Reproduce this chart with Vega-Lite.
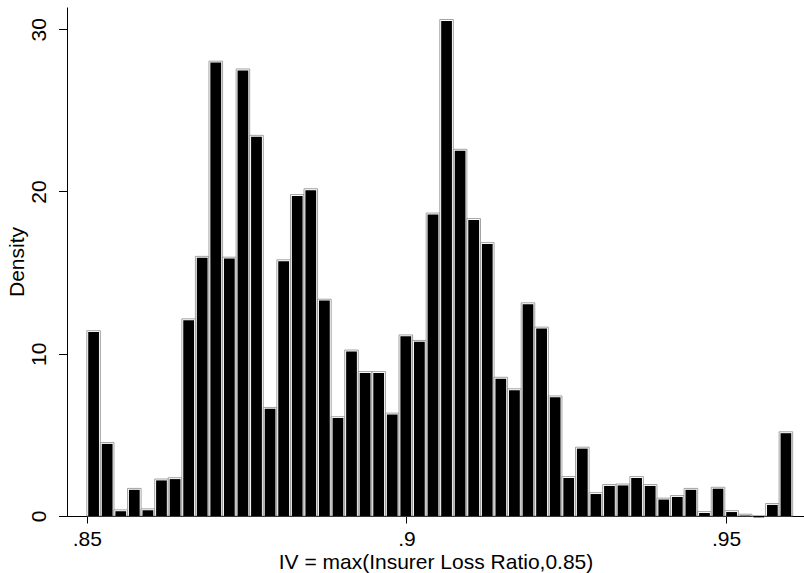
{
  "$schema": "https://vega.github.io/schema/vega-lite/v6.json",
  "autosize": "none",
  "width": 737,
  "height": 509,
  "padding": {"left": 67, "top": 7, "right": 0, "bottom": 57},
  "background": "white",
  "config": {
    "view": {"stroke": null},
    "font": "Liberation Sans",
    "axis": {
      "grid": false,
      "domainColor": "#000000",
      "domainWidth": 1,
      "tickColor": "#000000",
      "tickWidth": 1,
      "labelFont": "Liberation Sans",
      "labelFontSize": 21,
      "labelColor": "#000000",
      "titleFont": "Liberation Sans",
      "titleFontSize": 21,
      "titleFontWeight": "normal",
      "titleColor": "#000000"
    }
  },
  "data": {
    "values": [
      {"bin_start": 0.85000, "bin_end": 0.85212, "density": 11.42},
      {"bin_start": 0.85212, "bin_end": 0.85425, "density": 4.53},
      {"bin_start": 0.85425, "bin_end": 0.85637, "density": 0.38},
      {"bin_start": 0.85637, "bin_end": 0.85849, "density": 1.70},
      {"bin_start": 0.85849, "bin_end": 0.86062, "density": 0.44},
      {"bin_start": 0.86062, "bin_end": 0.86274, "density": 2.28},
      {"bin_start": 0.86274, "bin_end": 0.86487, "density": 2.36},
      {"bin_start": 0.86487, "bin_end": 0.86699, "density": 12.15},
      {"bin_start": 0.86699, "bin_end": 0.86911, "density": 16.0},
      {"bin_start": 0.86911, "bin_end": 0.87124, "density": 28.03},
      {"bin_start": 0.87124, "bin_end": 0.87336, "density": 15.95},
      {"bin_start": 0.87336, "bin_end": 0.87548, "density": 27.55},
      {"bin_start": 0.87548, "bin_end": 0.87761, "density": 23.46},
      {"bin_start": 0.87761, "bin_end": 0.87973, "density": 6.69},
      {"bin_start": 0.87973, "bin_end": 0.88186, "density": 15.79},
      {"bin_start": 0.88186, "bin_end": 0.88398, "density": 19.81},
      {"bin_start": 0.88398, "bin_end": 0.88610, "density": 20.17},
      {"bin_start": 0.88610, "bin_end": 0.88823, "density": 13.36},
      {"bin_start": 0.88823, "bin_end": 0.89035, "density": 6.12},
      {"bin_start": 0.89035, "bin_end": 0.89247, "density": 10.23},
      {"bin_start": 0.89247, "bin_end": 0.89460, "density": 8.90},
      {"bin_start": 0.89460, "bin_end": 0.89672, "density": 8.90},
      {"bin_start": 0.89672, "bin_end": 0.89884, "density": 6.34},
      {"bin_start": 0.89884, "bin_end": 0.90097, "density": 11.16},
      {"bin_start": 0.90097, "bin_end": 0.90309, "density": 10.82},
      {"bin_start": 0.90309, "bin_end": 0.90522, "density": 18.67},
      {"bin_start": 0.90522, "bin_end": 0.90734, "density": 30.6},
      {"bin_start": 0.90734, "bin_end": 0.90946, "density": 22.6},
      {"bin_start": 0.90946, "bin_end": 0.91159, "density": 18.33},
      {"bin_start": 0.91159, "bin_end": 0.91371, "density": 16.85},
      {"bin_start": 0.91371, "bin_end": 0.91583, "density": 8.55},
      {"bin_start": 0.91583, "bin_end": 0.91796, "density": 7.84},
      {"bin_start": 0.91796, "bin_end": 0.92008, "density": 13.14},
      {"bin_start": 0.92008, "bin_end": 0.92221, "density": 11.64},
      {"bin_start": 0.92221, "bin_end": 0.92433, "density": 7.40},
      {"bin_start": 0.92433, "bin_end": 0.92645, "density": 2.43},
      {"bin_start": 0.92645, "bin_end": 0.92858, "density": 4.24},
      {"bin_start": 0.92858, "bin_end": 0.93070, "density": 1.44},
      {"bin_start": 0.93070, "bin_end": 0.93282, "density": 1.94},
      {"bin_start": 0.93282, "bin_end": 0.93495, "density": 1.97},
      {"bin_start": 0.93495, "bin_end": 0.93707, "density": 2.43},
      {"bin_start": 0.93707, "bin_end": 0.93920, "density": 1.94},
      {"bin_start": 0.93920, "bin_end": 0.94132, "density": 1.10},
      {"bin_start": 0.94132, "bin_end": 0.94344, "density": 1.26},
      {"bin_start": 0.94344, "bin_end": 0.94557, "density": 1.70},
      {"bin_start": 0.94557, "bin_end": 0.94769, "density": 0.27},
      {"bin_start": 0.94769, "bin_end": 0.94981, "density": 1.77},
      {"bin_start": 0.94981, "bin_end": 0.95194, "density": 0.33},
      {"bin_start": 0.95194, "bin_end": 0.95406, "density": 0.11},
      {"bin_start": 0.95406, "bin_end": 0.95619, "density": 0},
      {"bin_start": 0.95619, "bin_end": 0.95831, "density": 0.77},
      {"bin_start": 0.95831, "bin_end": 0.96043, "density": 5.19}
    ]
  },
  "encoding": {
    "x": {
      "field": "bin_start",
      "type": "quantitative",
      "scale": {"domain": [0.8469, 0.9622], "nice": false, "zero": false},
      "axis": {
        "values": [0.85, 0.9, 0.95],
        "labelExpr": "substring(format(datum.value, '.2~f'), 1)",
        "tickSize": 7,
        "labelPadding": 22,
        "labelBaseline": "alphabetic",
        "labelFlush": false,
        "title": "IV = max(Insurer Loss Ratio,0.85)",
        "titleX": 368.5,
        "titleY": 52,
        "titleAlign": "center",
        "titleBaseline": "alphabetic"
      }
    },
    "x2": {"field": "bin_end"},
    "y": {
      "field": "density",
      "type": "quantitative",
      "scale": {"domain": [0, 31.37], "nice": false},
      "axis": {
        "values": [0, 10, 20, 30],
        "tickSize": 8.5,
        "labelAngle": -90,
        "labelAlign": "center",
        "labelBaseline": "alphabetic",
        "labelPadding": 13.5,
        "labelFlush": false,
        "title": "Density",
        "titleAngle": -90,
        "titleX": -44,
        "titleY": 254.5,
        "titleAlign": "center",
        "titleBaseline": "alphabetic"
      }
    },
    "y2": {"datum": 0}
  },
  "layer": [
    {"mark": {"type": "bar", "fill": "white", "stroke": "#8c8c8c", "strokeWidth": 0.8}},
    {"mark": {"type": "bar", "fill": "black", "xOffset": 1.4, "x2Offset": -1.4, "yOffset": 1.4}}
  ]
}
